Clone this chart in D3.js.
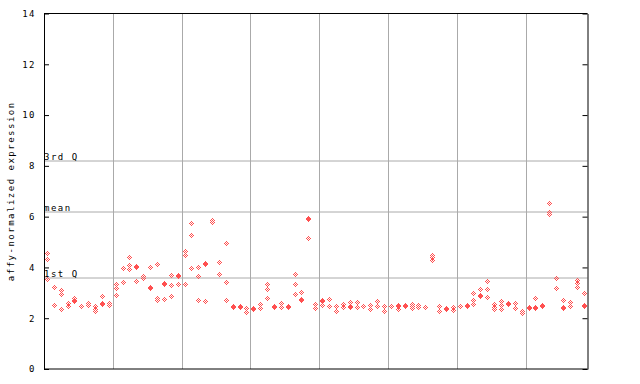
<!DOCTYPE html>
<html>
<head>
<meta charset="utf-8">
<script src="https://cdn.jsdelivr.net/npm/d3@7"></script>
<style>
  body { margin: 0; background: #fff; }
  text { font-family: "DejaVu Sans Mono", monospace; font-size: 9px; letter-spacing: 1.5px; fill: #000; }
</style>
</head>
<body>
<div id="chart"></div>
<script>
// values per sample (replicates), 10 samples per group
var group1 = [[4.56, 4.33, 3.53], [3.22, 2.51], [3.11, 2.94, 2.35], [2.58, 2.47], [2.78, 2.70, 2.66],
  [2.47], [2.59, 2.51], [2.48, 2.37, 2.30], [2.86, 2.61, 2.57], [2.61, 2.52]];
var group2 = [[3.33, 3.18, 2.90], [3.96, 3.41], [4.41, 4.08, 3.94], [4.05, 4.01, 3.46], [3.66, 3.60],
  [4.02, 3.22, 3.18], [4.13, 2.78, 2.72], [3.38, 3.34, 2.74], [3.69, 3.31, 2.87], [3.69, 3.65, 3.33]];
var group3 = [[4.63, 4.50, 3.33], [5.74, 5.26, 3.96], [4.00, 3.67, 2.70], [4.17, 4.13, 2.67], [5.88, 5.80],
  [4.20, 3.73], [4.95, 3.41, 2.70], [2.47, 2.43], [2.47, 2.43], [2.42, 2.26]];
var group4 = [[2.41, 2.37], [2.55, 2.40], [3.33, 3.15, 2.78], [2.50, 2.46], [2.59, 2.43],
  [2.47, 2.43], [3.73, 3.33, 2.94], [3.02, 2.75, 2.71], [5.94, 5.90, 5.15], [2.56, 2.40]];
var group5 = [[2.71, 2.67, 2.51], [2.74, 2.47], [2.48, 2.30], [2.56, 2.45], [2.65, 2.47, 2.43],
  [2.65, 2.45], [2.47], [2.54, 2.38], [2.68, 2.48], [2.48, 2.30]];
var group6 = [[2.47], [2.52, 2.48, 2.35], [2.51, 2.47], [2.55, 2.47, 2.41], [2.52, 2.45],
  [2.43], [4.49, 4.41, 4.29], [2.48, 2.30], [2.41, 2.37], [2.45, 2.33]];
var group7 = [[2.47], [2.54, 2.50], [2.98, 2.72, 2.56], [3.14, 2.91, 2.87], [3.45, 3.14, 2.85],
  [2.56, 2.45, 2.35], [2.69, 2.52, 2.37], [2.59, 2.55], [2.58, 2.40], [2.30, 2.22]];
var group8 = [[2.46, 2.42], [2.78, 2.46, 2.42], [2.53, 2.49], [6.52, 6.20, 6.12], [3.57, 3.18],
  [2.70, 2.46, 2.42], [2.63, 2.49], [3.50, 3.37, 3.24], [2.98, 2.54, 2.50]];

var statLabels = ["1st Q", "mean", "3rd Q"];
var statValues = [3.61, 6.22, 8.20];
var yTicks = [0, 2, 4, 6, 8, 10, 12, 14];

var groups = [group1, group2, group3, group4, group5, group6, group7, group8];

var svgWidth = 640;
var svgHeight = 384;
var margin = { top: 13.5, right: 52.5, bottom: 15, left: 44 };
var width = svgWidth - margin.left - margin.right;
var height = svgHeight - margin.top - margin.bottom;

var svg = d3.select("#chart")
  .append("svg")
  .attr("width", svgWidth)
  .attr("height", svgHeight);

var chartGroup = svg.append("g")
  .attr("transform", `translate(${margin.left}, ${margin.top})`);

// flatten samples
var samples = [];
var boundaries = [];
groups.forEach((g, gi) => {
  if (gi > 0) boundaries.push(samples.length);
  g.forEach((vals) => samples.push(vals));
});

var points = [];
samples.forEach((vals, i) => {
  vals.forEach((v) => points.push({ i: i, v: v }));
});

var xScale = d3.scaleBand()
  .domain(d3.range(samples.length))
  .range([0, width]);

var yScale = d3.scaleLinear()
  .domain([0, 14])
  .range([height, 0]);

// vertical group lines
chartGroup.selectAll(".vgrid")
  .data(boundaries)
  .enter()
  .append("line")
  .attr("x1", (d) => Math.round(xScale(d)) + 0.5)
  .attr("x2", (d) => Math.round(xScale(d)) + 0.5)
  .attr("y1", 0)
  .attr("y2", height)
  .attr("stroke", "#aaaaaa")
  .attr("stroke-width", 1);

// quartile / mean lines
chartGroup.selectAll(".hgrid")
  .data(statValues)
  .enter()
  .append("line")
  .attr("x1", 0)
  .attr("x2", width)
  .attr("y1", (d) => Math.round(yScale(d)) + 0.5)
  .attr("y2", (d) => Math.round(yScale(d)) + 0.5)
  .attr("stroke", "#aaaaaa")
  .attr("stroke-width", 1);

chartGroup.selectAll(".statLabel")
  .data(statValues)
  .enter()
  .append("text")
  .attr("x", 0)
  .attr("y", (d) => Math.round(yScale(d)) - 1)
  .text((d, i) => statLabels[i]);

// checkered diamond marker
var checkerDiamond = {
  draw: function (context, size) {
    var offs = [[0, 0], [0, -2], [0, 2], [-2, 0], [2, 0], [-1, -1], [1, -1], [-1, 1], [1, 1]];
    offs.forEach((o) => {
      context.rect(o[0] - 0.5, o[1] - 0.5, 1, 1);
    });
  }
};

chartGroup.selectAll(".pt")
  .data(points)
  .enter()
  .append("path")
  .attr("d", d3.symbol().type(checkerDiamond))
  .attr("transform", (d) => {
    var x = Math.floor(margin.left + xScale(d.i) + xScale.bandwidth() / 2) - margin.left + 0.5;
    var y = Math.round(margin.top + yScale(d.v)) - margin.top + 0.5;
    return `translate(${x}, ${y})`;
  })
  .attr("fill", "#ff5050")
  .attr("shape-rendering", "crispEdges");

// axes
var leftAxis = d3.axisLeft(yScale).tickValues(yTicks).tickSizeInner(-5).tickSizeOuter(0).tickPadding(8);
var rightAxis = d3.axisRight(yScale).tickValues(yTicks).tickSizeInner(-5).tickSizeOuter(0).tickFormat("");

var yAxis = chartGroup.append("g").call(leftAxis);
yAxis.select(".domain").attr("stroke", "#000");
yAxis.selectAll("text")
  .style("font-family", "'DejaVu Sans Mono', monospace")
  .style("font-size", "9px")
  .attr("fill", "#000");

chartGroup.append("g")
  .attr("transform", `translate(${width}, 0)`)
  .call(rightAxis);

// top and bottom frame
chartGroup.append("line")
  .attr("x1", 0).attr("x2", width)
  .attr("y1", 0).attr("y2", 0)
  .attr("stroke", "#000");
chartGroup.append("line")
  .attr("x1", 0).attr("x2", width)
  .attr("y1", height).attr("y2", height)
  .attr("stroke", "#000");

// y label
svg.append("text")
  .attr("transform", `translate(14, ${margin.top + height / 2}) rotate(-90)`)
  .attr("text-anchor", "middle")
  .text("affy-normalized expression");
</script>
</body>
</html>
